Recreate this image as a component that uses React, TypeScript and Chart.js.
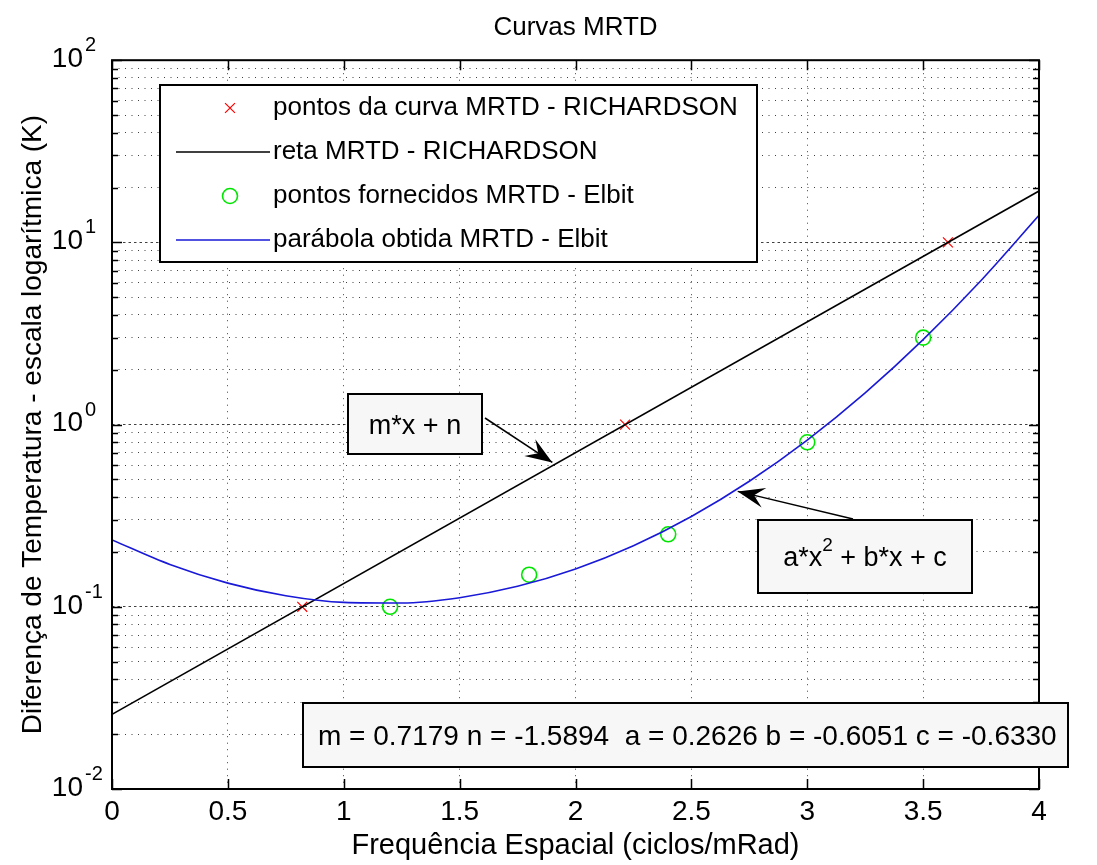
import { useEffect, useRef } from "react";
import { Chart, registerables } from "chart.js";

Chart.register(...registerables);

// ---------- data ----------
const richardsonX = [0.821, 2.214, 3.607];
const richardsonY = [0.1, 1, 10];

const retaX = [0, 4];
const retaY = [0.0257, 19.15];

const elbitX = [1.2, 1.8, 2.4, 3.0, 3.5];
const elbitY = [0.1, 0.15, 0.25, 0.8, 3.0];

const parabolaX = [0, 0.25, 0.5, 0.75, 1.0, 1.25, 1.5, 1.75, 2.0, 2.25, 2.5, 2.75, 3.0, 3.25, 3.5, 3.75, 4.0];
const parabolaY = [0.233, 0.1707, 0.1349, 0.115, 0.1058, 0.1049, 0.1122, 0.1295, 0.1612, 0.2163, 0.313, 0.4885, 0.8225, 1.493, 2.924, 6.175, 14.07];

const legendLabels = [
  "pontos da curva MRTD - RICHARDSON",
  "reta MRTD - RICHARDSON",
  "pontos fornecidos MRTD - Elbit",
  "parábola obtida MRTD - Elbit",
];

const xTickValues = [0, 0.5, 1, 1.5, 2, 2.5, 3, 3.5, 4];
const xTickLabels = ["0", "0.5", "1", "1.5", "2", "2.5", "3", "3.5", "4"];
const yDecades = [0.01, 0.1, 1, 10, 100];
const yExponents = ["-2", "-1", "0", "1", "2"];
const yMultipliers = [1, 2, 3, 4, 5, 6, 7, 8, 9];

const titleText = "Curvas MRTD";
const xTitle = "Frequência Espacial (ciclos/mRad)";
const yTitle = "Diferença de Temperatura - escala logarítmica (K)";
const paramsText = "m = 0.7179 n = -1.5894  a = 0.2626 b = -0.6051 c = -0.6330";

// ---------- grid helpers ----------
const yGridValues: number[] = [];
for (let i = 0; i < yDecades.length - 1; i++) {
  for (const m of yMultipliers) yGridValues.push(Number((yDecades[i] * m).toPrecision(3)));
}
yGridValues.push(yDecades[yDecades.length - 1]);
const isDecade = (v: number) => yDecades.some((d) => Math.abs(d - v) / d < 1e-6);

const FONT = "'Liberation Sans', Arial, Helvetica, sans-serif";

// ---------- annotation layout (pixels) ----------
const textBoxes = [
  { left: 348, top: 394, width: 134, height: 60, size: 27, align: "center", parts: [{ t: "m*x + n" }] },
  {
    left: 758, top: 520, width: 214, height: 73, size: 27, align: "center",
    parts: [{ t: "a*x" }, { t: "2", sup: true }, { t: " + b*x + c" }],
  },
  { left: 303, top: 703, width: 765, height: 64, size: 28, align: "left", parts: [{ t: paramsText }] },
];
const arrows = [
  { tail: [485, 418], tip: { x: 1.9, y: 0.62 } },
  { tail: [853, 519], tip: { x: 2.7, y: 0.43 } },
];
const legendBox = { left: 160, top: 85, right: 757, bottom: 262, rowY0: 108, rowGap: 44, markX: 230, lineX0: 176, lineX1: 270, textX: 273, size: 26 };

function drawArrowHead(ctx: CanvasRenderingContext2D, tx: number, ty: number, fx: number, fy: number) {
  const dx = tx - fx, dy = ty - fy;
  const len = Math.hypot(dx, dy) || 1;
  const ux = dx / len, uy = dy / len;
  const nx = -uy, ny = ux;
  const L = 27, W = 10;
  ctx.beginPath();
  ctx.moveTo(tx, ty);
  ctx.lineTo(tx - ux * L + nx * W, ty - uy * L + ny * W);
  ctx.lineTo(tx - ux * L * 0.62, ty - uy * L * 0.62);
  ctx.lineTo(tx - ux * L - nx * W, ty - uy * L - ny * W);
  ctx.closePath();
  ctx.fill();
}

const decorPlugin = {
  id: "matlabDecor",
  afterDatasetsDraw(chart: any) {
    const { ctx, chartArea: a, scales } = chart;
    const xs = scales.x, ys = scales.y;
    ctx.save();
    ctx.strokeStyle = "#000";
    ctx.lineWidth = 1.5;
    ctx.setLineDash([]);
    ctx.beginPath();
    for (const v of xTickValues) {
      const px = Math.round(xs.getPixelForValue(v)) + 0.5;
      ctx.moveTo(px, a.bottom); ctx.lineTo(px, a.bottom - 10);
      ctx.moveTo(px, a.top); ctx.lineTo(px, a.top + 10);
    }
    for (const v of yGridValues) {
      const py = Math.round(ys.getPixelForValue(v)) + 0.5;
      const len = isDecade(v) ? 10 : 6;
      ctx.moveTo(a.left, py); ctx.lineTo(a.left + len, py);
      ctx.moveTo(a.right, py); ctx.lineTo(a.right - len, py);
    }
    ctx.stroke();
    ctx.lineWidth = 2;
    ctx.strokeRect(a.left, a.top, a.right - a.left, a.bottom - a.top);
    ctx.restore();
  },
  afterDraw(chart: any) {
    const { ctx, scales } = chart;
    const xs = scales.x, ys = scales.y;
    ctx.save();
    ctx.fillStyle = "#000";
    // y tick labels 10^k
    yDecades.forEach((d, i) => {
      const py = ys.getPixelForValue(d);
      ctx.font = `28px ${FONT}`;
      ctx.textAlign = "right";
      ctx.textBaseline = "middle";
      ctx.fillText("10", 83, py - 1);
      ctx.font = `20px ${FONT}`;
      ctx.textAlign = "left";
      ctx.textBaseline = "alphabetic";
      ctx.fillText(yExponents[i], 85, py - 9);
    });

    // legend
    const lb = legendBox;
    ctx.fillStyle = "#fff";
    ctx.fillRect(lb.left, lb.top, lb.right - lb.left, lb.bottom - lb.top);
    ctx.strokeStyle = "#000";
    ctx.lineWidth = 2;
    ctx.strokeRect(lb.left, lb.top, lb.right - lb.left, lb.bottom - lb.top);
    chart.data.datasets.forEach((ds: any, i: number) => {
      const y = lb.rowY0 + i * lb.rowGap;
      ctx.strokeStyle = ds.borderColor;
      ctx.lineWidth = ds.borderWidth;
      if (ds.showLine) {
        ctx.beginPath();
        ctx.moveTo(lb.lineX0, y); ctx.lineTo(lb.lineX1, y);
        ctx.stroke();
      } else if (ds.pointStyle === "crossRot") {
        const h = ds.pointRadius * Math.SQRT1_2;
        ctx.beginPath();
        ctx.moveTo(lb.markX - h, y - h); ctx.lineTo(lb.markX + h, y + h);
        ctx.moveTo(lb.markX - h, y + h); ctx.lineTo(lb.markX + h, y - h);
        ctx.stroke();
      } else {
        ctx.beginPath();
        ctx.arc(lb.markX, y, ds.pointRadius, 0, Math.PI * 2);
        ctx.stroke();
      }
      ctx.fillStyle = "#000";
      ctx.font = `${lb.size}px ${FONT}`;
      ctx.textAlign = "left";
      ctx.textBaseline = "middle";
      ctx.fillText(ds.label, lb.textX, y);
    });

    // arrows
    ctx.strokeStyle = "#000";
    ctx.fillStyle = "#000";
    ctx.lineWidth = 1.5;
    for (const ar of arrows) {
      const tx = xs.getPixelForValue(ar.tip.x);
      const ty = ys.getPixelForValue(ar.tip.y);
      ctx.beginPath();
      ctx.moveTo(ar.tail[0], ar.tail[1]);
      ctx.lineTo(tx, ty);
      ctx.stroke();
      drawArrowHead(ctx, tx, ty, ar.tail[0], ar.tail[1]);
    }

    // text boxes
    for (const b of textBoxes) {
      ctx.fillStyle = "#f7f7f7";
      ctx.fillRect(b.left, b.top, b.width, b.height);
      ctx.strokeStyle = "#000";
      ctx.lineWidth = 2;
      ctx.strokeRect(b.left, b.top, b.width, b.height);
      ctx.fillStyle = "#000";
      ctx.textBaseline = "alphabetic";
      ctx.textAlign = "left";
      const mainFont = `${b.size}px ${FONT}`;
      const supFont = `${Math.round(b.size * 0.7)}px ${FONT}`;
      let total = 0;
      for (const p of b.parts as any[]) {
        ctx.font = p.sup ? supFont : mainFont;
        total += ctx.measureText(p.t).width;
      }
      let x = b.align === "center" ? b.left + (b.width - total) / 2 : b.left + 15;
      const base = b.top + b.height / 2 + b.size * 0.36;
      for (const p of b.parts as any[]) {
        ctx.font = p.sup ? supFont : mainFont;
        ctx.fillText(p.t, x, p.sup ? base - b.size * 0.55 : base);
        x += ctx.measureText(p.t).width;
      }
    }
    ctx.restore();
  },
};

export default function App() {
  const ref = useRef<HTMLCanvasElement | null>(null);
  useEffect(() => {
    if (!ref.current) return;
    Chart.defaults.font.family = FONT;
    Chart.defaults.color = "#000";
    const gridColor = "rgba(0,0,0,0.75)";
    const chart = new Chart(ref.current, {
      type: "scatter",
      data: {
        datasets: [
          {
            label: legendLabels[0],
            data: richardsonX.map((x, i) => ({ x, y: richardsonY[i] })),
            showLine: false,
            pointStyle: "crossRot",
            pointRadius: 7,
            borderColor: "#ff0000",
            backgroundColor: "transparent",
            borderWidth: 1.2,
            order: 4,
          },
          {
            label: legendLabels[1],
            data: retaX.map((x, i) => ({ x, y: retaY[i] })),
            showLine: true,
            pointRadius: 0,
            borderColor: "#000000",
            borderWidth: 1.6,
            order: 3,
          },
          {
            label: legendLabels[2],
            data: elbitX.map((x, i) => ({ x, y: elbitY[i] })),
            showLine: false,
            pointStyle: "circle",
            pointRadius: 7.5,
            borderColor: "#00e600",
            backgroundColor: "transparent",
            borderWidth: 1.6,
            order: 2,
          },
          {
            label: legendLabels[3],
            data: parabolaX.map((x, i) => ({ x, y: parabolaY[i] })),
            showLine: true,
            pointRadius: 0,
            borderColor: "rgb(25,25,215)",
            borderWidth: 1.6,
            cubicInterpolationMode: "monotone",
            order: 1,
          },
        ] as any,
      },
      options: {
        responsive: false,
        animation: false,
        events: [],
        layout: { padding: { left: 0, right: 58, top: 0, bottom: 0 } },
        plugins: {
          legend: { display: false },
          tooltip: { enabled: false },
          title: {
            display: true,
            text: titleText,
            fullSize: false,
            color: "#000",
            font: { size: 26, weight: "normal", family: FONT },
            padding: { top: 12, bottom: 17 },
          },
        },
        scales: {
          x: {
            type: "linear",
            min: 0,
            max: 4,
            afterBuildTicks: (s: any) => {
              s.ticks = xTickValues.map((value) => ({ value }));
            },
            afterFit: (s: any) => {
              s.height = 76;
            },
            ticks: {
              padding: 6,
              maxRotation: 0,
              autoSkip: false,
              font: { size: 28, family: FONT },
              color: "#000",
              callback: (_v: any, i: number) => xTickLabels[i],
            },
            grid: { color: gridColor, lineWidth: 1, drawTicks: false },
            border: { display: false, dash: [1, 5.5] },
            title: {
              display: true,
              text: xTitle,
              color: "#000",
              font: { size: 29, family: FONT },
              padding: { top: 0, bottom: 2 },
            },
          },
          y: {
            type: "logarithmic",
            min: 0.01,
            max: 100,
            afterBuildTicks: (s: any) => {
              s.ticks = yGridValues.map((value) => ({ value }));
            },
            afterFit: (s: any) => {
              s.width = 112;
            },
            ticks: { display: false },
            grid: { color: gridColor, lineWidth: 1, drawTicks: false },
            border: {
              display: false,
              dash: (c: any) => (c.tick && isDecade(c.tick.value) ? [2.5, 3] : [1, 5.5]),
            },
            title: {
              display: true,
              text: yTitle,
              color: "#000",
              font: { size: 28, family: FONT },
              padding: { top: 16, bottom: 0 },
            },
          },
        },
      } as any,
      plugins: [decorPlugin],
    });
    return () => chart.destroy();
  }, []);

  return (
    <div style={{ position: "absolute", left: 0, top: 0, width: 1097, height: 865, background: "#fff" }}>
      <canvas ref={ref} width={1097} height={865} style={{ display: "block" }} />
    </div>
  );
}
